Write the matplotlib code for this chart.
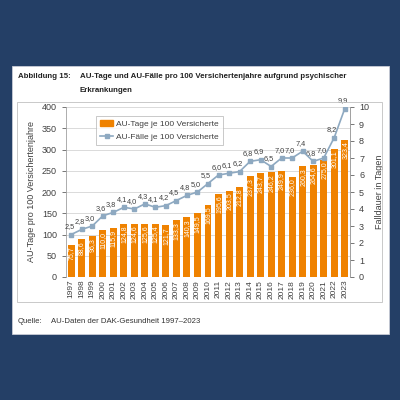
import matplotlib
matplotlib.use("Agg")
import matplotlib.pyplot as plt
from matplotlib.patches import Rectangle, Patch
from matplotlib.lines import Line2D

plt.rcParams['font.family'] = ['Liberation Sans', 'DejaVu Sans']

years = [str(y) for y in range(1997, 2024)]
au_tage = [75.7, 88.6, 96.3, 110.0, 115.9, 124.8, 124.6, 125.6, 125.4, 121.7,
           133.3, 140.3, 149.5, 169.5, 195.6, 203.5, 212.8, 237.3, 243.7, 246.2,
           249.9, 236.0, 260.3, 264.6, 275.0, 301.1, 323.4]
falldauer = [2.5, 2.8, 3.0, 3.6, 3.8, 4.1, 4.0, 4.3, 4.1, 4.2, 4.5, 4.8, 5.0, 5.5,
             6.0, 6.1, 6.2, 6.8, 6.9, 6.5, 7.0, 7.0, 7.4, 6.8, 7.0, 8.2, 9.9]

navy = "#243f66"
orange = "#ef8200"
blue = "#8ea9c1"
txt = "#404040"

def de(v):
    return f"{v:.1f}".replace(".", ",")

fig = plt.figure(figsize=(4, 4), dpi=100)
fig.patch.set_facecolor(navy)

# white page and grey chart frame
fig.add_artist(Rectangle((0.03, 0.165), 0.9425, 0.67, transform=fig.transFigure,
                         facecolor="white", edgecolor="#c8ccd6", lw=0.6, zorder=0))
fig.add_artist(Rectangle((0.042, 0.245), 0.912, 0.5, transform=fig.transFigure,
                         facecolor="none", edgecolor="#c0c0c0", lw=0.6, zorder=1))

fig.text(0.045, 0.81, "Abbildung 15:", fontsize=5.7, weight="bold", color="#222222",
         va="center")
fig.text(0.2, 0.81, "AU-Tage und AU-Fälle pro 100 Versichertenjahre aufgrund psychischer",
         fontsize=5.7, weight="bold", color="#222222", va="center")
fig.text(0.2, 0.775, "Erkrankungen", fontsize=5.7, weight="bold", color="#222222",
         va="center")
fig.text(0.045, 0.197, "Quelle:", fontsize=5.6, color="#333333", va="center")
fig.text(0.128, 0.197, "AU-Daten der DAK-Gesundheit 1997–2023", fontsize=5.6,
         color="#333333", va="center")

ax = fig.add_axes([0.165, 0.3075, 0.71, 0.425])
ax.set_facecolor("none")
x = list(range(len(years)))
ax.bar(x, au_tage, width=0.66, color=orange, zorder=2)
ax.set_ylim(0, 400)
ax.set_xlim(-0.5, len(years) - 0.5)
ax.set_yticks(range(0, 401, 50))
ax.yaxis.grid(True, color="#d4d4d4", lw=0.6, zorder=0)
ax.set_axisbelow(True)
ax.set_xticks(x)
ax.set_xticklabels(years, rotation=90, fontsize=6, color=txt)
ax.tick_params(axis="y", labelsize=6.5, colors=txt, length=3, width=0.5)
ax.tick_params(axis="x", length=0, pad=2)
for s in ["top", "bottom"]:
    ax.spines[s].set_visible(False)
for s in ["left", "right"]:
    ax.spines[s].set_color("#a0a0a0")
    ax.spines[s].set_linewidth(0.6)
ax.set_ylabel("AU-Tage pro 100 Versichertenjahre", fontsize=6.5, color=txt, labelpad=4)

for xi, v in zip(x, au_tage):
    ax.text(xi, v - 4, de(v), rotation=90, ha="center", va="top",
            fontsize=5, color="white", zorder=3)

ax2 = ax.twinx()
ax2.plot(x, falldauer, color=blue, lw=1.2, marker="s", markersize=3,
         markerfacecolor=blue, markeredgecolor=blue, zorder=4)
ax2.set_ylim(0, 10)
ax2.set_yticks(range(0, 11))
ax2.tick_params(axis="y", labelsize=6.5, colors=txt, length=3, width=0.5)
for s in ["top", "bottom", "left"]:
    ax2.spines[s].set_visible(False)
ax2.spines["right"].set_color("#a0a0a0")
ax2.spines["right"].set_linewidth(0.6)
ax2.set_ylabel("Falldauer in Tagen", fontsize=6.5, color=txt, labelpad=4)

for xi, v in zip(x, falldauer):
    ax2.annotate(de(v), (xi, v), xytext=(-1.5, 3), textcoords="offset points",
                 ha="center", va="bottom", fontsize=5.3, color=txt)

handles = [Patch(color=orange),
           Line2D([0], [0], color=blue, lw=1.2, marker="s", markersize=3)]
leg = ax2.legend(handles, ["AU-Tage je 100 Versicherte", "AU-Fälle je 100 Versicherte"],
                 loc="upper left", bbox_to_anchor=(0.09, 0.97), fontsize=6,
                 frameon=True, fancybox=False, edgecolor="#b0b0b0",
                 handlelength=1.6, handletextpad=0.3, borderpad=0.5, labelspacing=0.6)
leg.get_frame().set_linewidth(0.6)
for t in leg.get_texts():
    t.set_color(txt)

fig.savefig("out.png", dpi=100, facecolor=fig.get_facecolor())
